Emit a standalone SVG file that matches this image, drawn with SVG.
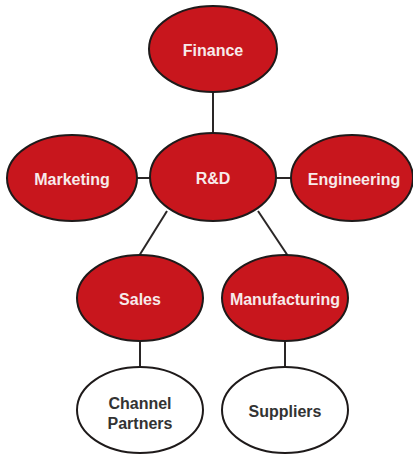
<svg xmlns="http://www.w3.org/2000/svg" width="413" height="455" viewBox="0 0 413 455">
  <style>
    .dept { fill: #c8161d; stroke: #1e1a1a; stroke-width: 2; }
    .ext { fill: #ffffff; stroke: #1e1a1a; stroke-width: 2; }
    .link { stroke: #2a2626; stroke-width: 2; fill: none; }
    .lbl { font-family: "Liberation Sans", Arial, sans-serif; font-weight: bold; font-size: 16px; text-anchor: middle; }
    .lbl-dept { fill: #f7eaea; }
    .lbl-ext { fill: #333333; }
  </style>
  <rect width="413" height="455" fill="#ffffff"/>
  <g id="connectors">
    <line class="link" x1="213" y1="92" x2="213" y2="134"/>
    <line class="link" x1="137" y1="178" x2="150" y2="178"/>
    <line class="link" x1="276" y1="178" x2="291" y2="178"/>
    <line class="link" x1="167" y1="211" x2="139" y2="256"/>
    <line class="link" x1="258" y1="211" x2="288" y2="256"/>
    <line class="link" x1="140" y1="341" x2="140" y2="368"/>
    <line class="link" x1="285" y1="341" x2="285" y2="368"/>
  </g>
  <g id="finance">
    <ellipse class="dept" cx="213" cy="49" rx="64" ry="43"/>
    <text class="lbl lbl-dept" x="213" y="56">Finance</text>
  </g>
  <g id="rnd">
    <ellipse class="dept" cx="213" cy="177" rx="63" ry="44"/>
    <text class="lbl lbl-dept" x="213" y="184">R&amp;D</text>
  </g>
  <g id="marketing">
    <ellipse class="dept" cx="72" cy="178" rx="65" ry="43"/>
    <text class="lbl lbl-dept" x="72" y="185">Marketing</text>
  </g>
  <g id="engineering">
    <ellipse class="dept" cx="352" cy="178" rx="61" ry="43"/>
    <text class="lbl lbl-dept" x="354" y="185">Engineering</text>
  </g>
  <g id="sales">
    <ellipse class="dept" cx="140" cy="298" rx="63" ry="43"/>
    <text class="lbl lbl-dept" x="140" y="305">Sales</text>
  </g>
  <g id="manufacturing">
    <ellipse class="dept" cx="285" cy="298" rx="63" ry="43"/>
    <text class="lbl lbl-dept" x="285" y="305">Manufacturing</text>
  </g>
  <g id="channel-partners">
    <ellipse class="ext" cx="140" cy="410" rx="63" ry="43"/>
    <text class="lbl lbl-ext" x="140" y="409">Channel</text>
    <text class="lbl lbl-ext" x="140" y="429">Partners</text>
  </g>
  <g id="suppliers">
    <ellipse class="ext" cx="285" cy="410" rx="63" ry="43"/>
    <text class="lbl lbl-ext" x="285" y="417">Suppliers</text>
  </g>
</svg>
